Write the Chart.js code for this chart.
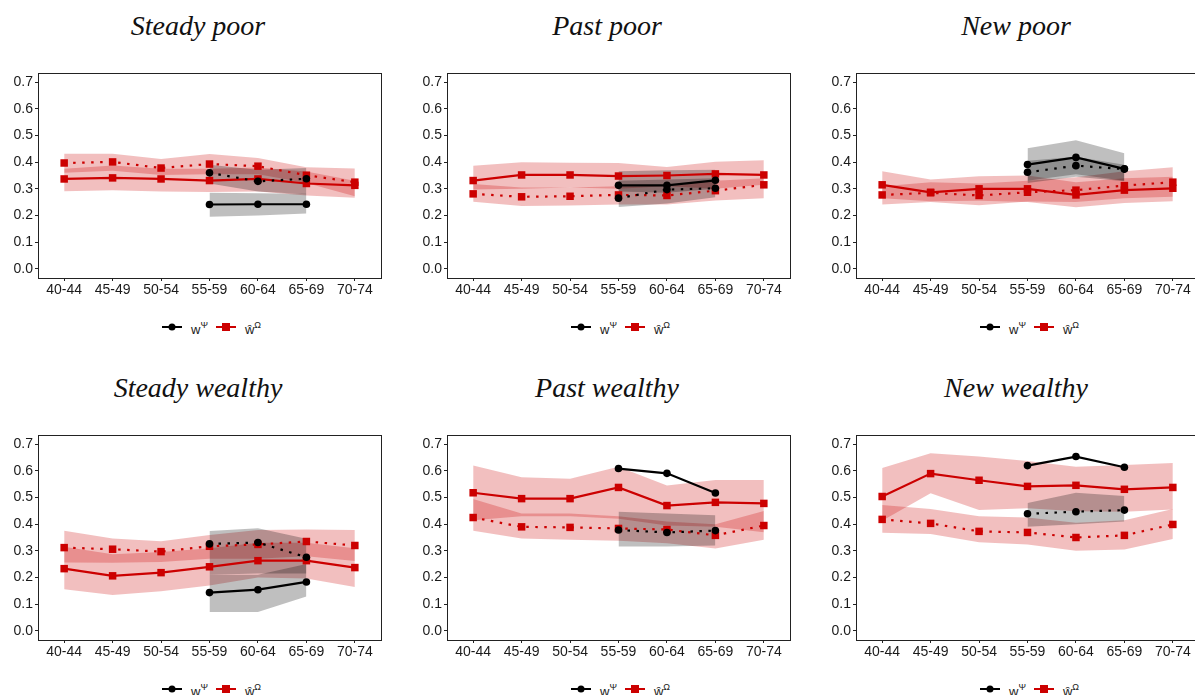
<!DOCTYPE html>
<html>
<head>
<meta charset="utf-8">
<script src="https://cdn.jsdelivr.net/npm/chart.js@4.4.1/dist/chart.umd.min.js"></script>
<style>
  body { margin: 0; background: #fff; }
  #wrap { position: relative; width: 1195px; height: 695px; overflow: hidden; background: #fff; }
  .panel { position: absolute; width: 409px; height: 362px; }
  .panel h2 {
    position: absolute; left: 0; top: 12px; width: 396px; margin: 0;
    font: italic 28px/28px "Liberation Serif", serif; font-weight: normal;
    text-align: center; color: #111;
  }
  .panel .cv { position: absolute; left: 0; top: 60px; width: 409px; height: 240px; }
  .legend {
    position: absolute; left: 162px; top: 318px; height: 18px;
    display: flex; align-items: center; font: 13px "Liberation Sans", sans-serif; color: #1a1a1a;
  }
  .key { position: relative; width: 20px; height: 18px; }
  .key::before { content: ""; position: absolute; left: 0; right: 0; top: 8px; height: 2px; }
  .key::after { content: ""; position: absolute; left: 50%; top: 50%; transform: translate(-50%, -50%); }
  .key.psi::before { background: #000; }
  .key.psi::after { width: 7px; height: 7px; border-radius: 50%; background: #000; }
  .key.omega::before { background: #cc0000; }
  .key.omega::after { width: 8px; height: 8px; background: #cc0000; }
  .lab { margin: 4px 8px 0 9px; }
  .lab sup { font-size: 9px; position: relative; top: -1px; }
</style>
</head>
<body>
<div id="wrap"></div>
<script>
Chart.defaults.font.family = "Liberation Sans";

const ageGroups = ["40-44", "45-49", "50-54", "55-59", "60-64", "65-69", "70-74"];
const yTicks = [0, 0.1, 0.2, 0.3, 0.4, 0.5, 0.6, 0.7];
const panelTitles = ["Steady poor", "Past poor", "New poor", "Steady wealthy", "Past wealthy", "New wealthy"];

// ŵ^Ω, solid series with its band (one row per panel)
const omegaSolid = [
  [0.337, 0.341, 0.337, 0.331, 0.337, 0.320, 0.313],
  [0.331, 0.352, 0.352, 0.348, 0.350, 0.356, 0.352],
  [0.315, 0.287, 0.300, 0.300, 0.277, 0.295, 0.302],
  [0.233, 0.206, 0.218, 0.240, 0.263, 0.263, 0.237],
  [0.518, 0.496, 0.496, 0.538, 0.470, 0.482, 0.478],
  [0.504, 0.590, 0.565, 0.542, 0.546, 0.531, 0.538]
];
const omegaSolidLo = [
  [0.291, 0.295, 0.290, 0.288, 0.290, 0.275, 0.266],
  [0.297, 0.300, 0.305, 0.300, 0.310, 0.300, 0.315],
  [0.265, 0.253, 0.255, 0.250, 0.231, 0.247, 0.253],
  [0.156, 0.134, 0.148, 0.170, 0.200, 0.196, 0.164],
  [0.415, 0.430, 0.430, 0.420, 0.395, 0.390, 0.370],
  [0.413, 0.516, 0.453, 0.460, 0.449, 0.447, 0.455]
];
const omegaSolidHi = [
  [0.375, 0.388, 0.375, 0.375, 0.380, 0.365, 0.330],
  [0.387, 0.400, 0.398, 0.397, 0.382, 0.402, 0.407],
  [0.366, 0.335, 0.347, 0.350, 0.325, 0.340, 0.345],
  [0.315, 0.287, 0.296, 0.310, 0.330, 0.330, 0.310],
  [0.620, 0.576, 0.571, 0.616, 0.545, 0.566, 0.566],
  [0.611, 0.666, 0.654, 0.637, 0.616, 0.622, 0.630]
];

// ŵ^Ω, dotted series with its band
const omegaDotted = [
  [0.397, 0.401, 0.378, 0.393, 0.385, 0.351, 0.325],
  [0.281, 0.270, 0.272, 0.277, 0.275, 0.293, 0.315],
  [0.277, 0.285, 0.275, 0.287, 0.295, 0.312, 0.325],
  [0.312, 0.306, 0.297, 0.317, 0.324, 0.335, 0.320],
  [0.425, 0.390, 0.388, 0.384, 0.380, 0.358, 0.395],
  [0.418, 0.403, 0.373, 0.369, 0.350, 0.358, 0.399]
];
const omegaDottedLo = [
  [0.360, 0.368, 0.352, 0.355, 0.355, 0.322, 0.272],
  [0.251, 0.235, 0.237, 0.241, 0.241, 0.256, 0.265],
  [0.241, 0.250, 0.238, 0.252, 0.250, 0.265, 0.270],
  [0.256, 0.255, 0.258, 0.270, 0.270, 0.280, 0.262],
  [0.375, 0.346, 0.342, 0.338, 0.328, 0.309, 0.342],
  [0.368, 0.363, 0.332, 0.324, 0.300, 0.305, 0.344]
];
const omegaDottedHi = [
  [0.432, 0.432, 0.412, 0.431, 0.416, 0.381, 0.376],
  [0.318, 0.305, 0.305, 0.310, 0.310, 0.330, 0.340],
  [0.310, 0.325, 0.320, 0.330, 0.343, 0.366, 0.381],
  [0.375, 0.346, 0.336, 0.359, 0.378, 0.380, 0.378],
  [0.495, 0.440, 0.440, 0.430, 0.410, 0.400, 0.450],
  [0.472, 0.457, 0.430, 0.425, 0.405, 0.415, 0.457]
];

// w^Ψ only covers 55-59 .. 65-69
const psiStart = 3;
const psiSolid = [
  [0.241, 0.242, 0.242],
  [0.313, 0.313, 0.332],
  [0.391, 0.418, 0.375],
  [0.143, 0.154, 0.183],
  [0.609, 0.591, 0.517],
  [0.620, 0.654, 0.614]
];
const psiSolidLo = [
  [0.195, 0.200, 0.207],
  [0.290, 0.285, 0.300],
  [0.330, 0.355, 0.330],
  [0.070, 0.070, 0.128],
  null,
  null
];
const psiSolidHi = [
  [0.285, 0.283, 0.281],
  [0.366, 0.370, 0.372],
  [0.452, 0.482, 0.434],
  [0.210, 0.210, 0.250],
  null,
  null
];
const psiDotted = [
  [0.360, 0.328, 0.338],
  [0.265, 0.297, 0.302],
  [0.362, 0.387, 0.374],
  [0.326, 0.331, 0.276],
  [0.378, 0.369, 0.376],
  [0.439, 0.447, 0.453]
];
const psiDottedLo = [
  [0.320, 0.290, 0.280],
  [0.232, 0.245, 0.268],
  [0.322, 0.345, 0.328],
  [0.210, 0.215, 0.215],
  [0.316, 0.316, 0.320],
  [0.390, 0.400, 0.410]
];
const psiDottedHi = [
  [0.390, 0.372, 0.378],
  [0.330, 0.335, 0.340],
  [0.405, 0.420, 0.390],
  [0.374, 0.385, 0.345],
  [0.447, 0.440, 0.434],
  [0.480, 0.518, 0.506]
];

const RED = "#cc0000";
const RED_BAND = "rgba(204,0,0,0.25)";
const GREY_BAND = "rgba(0,0,0,0.25)";

const pts = (vals, start) => vals.map((v, i) => ({ x: start + i, y: v }));

function line(vals, start, color, dotted, square) {
  return {
    data: pts(vals, start),
    borderColor: color,
    backgroundColor: color,
    borderWidth: 2.2,
    borderDash: dotted ? [2.5, 6.5] : [],
    pointStyle: square ? "rect" : "circle",
    pointRadius: square ? 5.3 : 3.8,
    pointBorderWidth: 0,
    fill: false
  };
}

function band(lo, hi, start, color) {
  if (!lo) return [];
  return [
    { data: pts(lo, start), borderWidth: 0, pointRadius: 0, fill: false },
    { data: pts(hi, start), borderWidth: 0, pointRadius: 0, backgroundColor: color, fill: "-1" }
  ];
}

// black frame round the plotting area
const frame = {
  id: "frame",
  afterDraw(chart) {
    const a = chart.chartArea, ctx = chart.ctx;
    ctx.save();
    ctx.strokeStyle = "#222";
    ctx.lineWidth = 1;
    ctx.strokeRect(Math.round(a.left) + 0.5, Math.round(a.top) + 0.5,
      Math.round(a.right - a.left), Math.round(a.bottom - a.top));
    ctx.restore();
  }
};

const wrap = document.getElementById("wrap");
const colLeft = [0, 409, 818];
const rowTop = [0, 362];

panelTitles.forEach((title, p) => {
  const div = document.createElement("div");
  div.className = "panel";
  div.style.left = colLeft[p % 3] + "px";
  div.style.top = rowTop[Math.floor(p / 3)] + "px";
  div.innerHTML =
    '<h2>' + title + '</h2>' +
    '<div class="cv"><canvas></canvas></div>' +
    '<div class="legend"><span class="key psi"></span><span class="lab">w<sup>Ψ</sup></span>' +
    '<span class="key omega"></span><span class="lab">ŵ<sup>Ω</sup></span></div>';
  wrap.appendChild(div);

  const datasets = [
    line(psiSolid[p], psiStart, "#000", false, false),
    line(psiDotted[p], psiStart, "#000", true, false),
    line(omegaSolid[p], 0, RED, false, true),
    line(omegaDotted[p], 0, RED, true, true),
    ...band(psiSolidLo[p], psiSolidHi[p], psiStart, GREY_BAND),
    ...band(psiDottedLo[p], psiDottedHi[p], psiStart, GREY_BAND),
    ...band(omegaSolidLo[p], omegaSolidHi[p], 0, RED_BAND),
    ...band(omegaDottedLo[p], omegaDottedHi[p], 0, RED_BAND)
  ];

  new Chart(div.querySelector("canvas"), {
    type: "line",
    data: { datasets },
    plugins: [frame],
    options: {
      responsive: true,
      maintainAspectRatio: false,
      animation: false,
      layout: { padding: { top: 13, right: 28, bottom: 0, left: 0 } },
      plugins: { legend: { display: false }, tooltip: { enabled: false } },
      scales: {
        x: {
          type: "linear",
          min: -0.54,
          max: 6.54,
          afterBuildTicks: (s) => { s.ticks = ageGroups.map((_, i) => ({ value: i })); },
          afterFit: (s) => { s.height = 22; },
          ticks: {
            callback: (v) => ageGroups[v],
            font: { size: 14 },
            color: "#1a1a1a",
            padding: 1,
            maxRotation: 0,
            autoSkip: false
          },
          grid: { drawOnChartArea: false, drawTicks: true, tickLength: 3, color: "#222" },
          border: { display: false }
        },
        y: {
          min: -0.035,
          max: 0.735,
          afterBuildTicks: (s) => { s.ticks = yTicks.map((v) => ({ value: v })); },
          afterFit: (s) => { s.width = 38; },
          ticks: {
            callback: (v) => v.toFixed(1),
            font: { size: 14 },
            color: "#1a1a1a",
            padding: 2
          },
          grid: { drawOnChartArea: false, drawTicks: true, tickLength: 3, color: "#222" },
          border: { display: false }
        }
      }
    }
  });
});
</script>
</body>
</html>
